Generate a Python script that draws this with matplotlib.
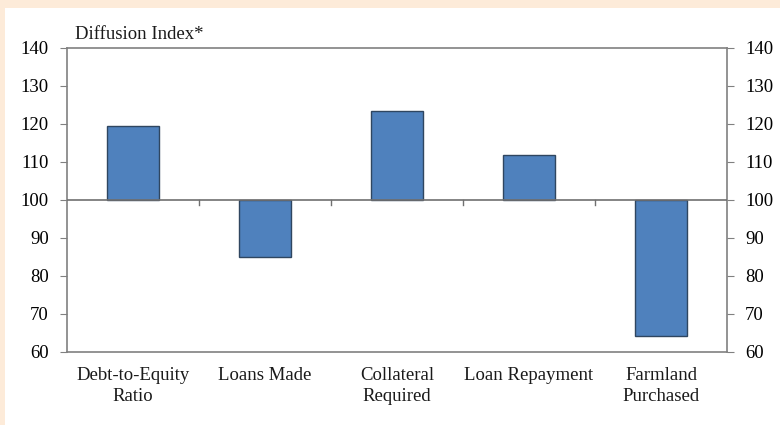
import matplotlib
matplotlib.use('Agg')
import matplotlib.pyplot as plt
from matplotlib.patches import Rectangle

# Diffusion index by category (100 = no change)
categories = ['Debt-to-Equity\nRatio', 'Loans Made', 'Collateral\nRequired',
              'Loan Repayment', 'Farmland\nPurchased']
values = [119.5, 85.0, 123.5, 111.8, 64.3]
baseline = 100
y_ticks = [60, 70, 80, 90, 100, 110, 120, 130, 140]

plt.rcParams['font.family'] = ['Liberation Serif', 'DejaVu Serif']

fig = plt.figure(figsize=(7.8, 4.25), dpi=100)
fig.patch.set_facecolor('#fdebd9')
# white panel inside the peach frame (drawn beneath the axes)
fig.add_artist(Rectangle((5 / 780, 0), 775 / 780, 417 / 425,
                         transform=fig.transFigure, facecolor='white',
                         edgecolor='none', zorder=-10))

ax = fig.add_axes([67 / 780, 1 - 352 / 425, 660 / 780, 304 / 425])
ax.set_facecolor('white')

x = range(len(categories))
heights = [v - baseline for v in values]
ax.bar(x, heights, bottom=baseline, width=0.4, color='#4f81bd',
       edgecolor='#2f4660', linewidth=1.0, zorder=3)

ax.set_xlim(-0.5, len(categories) - 0.5)
ax.set_ylim(60, 140)
ax.set_yticks(y_ticks)
ax.tick_params(axis='y', which='both', direction='out', length=5,
               color='#808080', labelsize=13.5, pad=8,
               left=True, right=True, labelleft=True, labelright=True)
ax.set_xticks([])

for s in ax.spines.values():
    s.set_color('#808080')
    s.set_linewidth(1.2)

# baseline at 100 with small ticks between categories
ax.axhline(baseline, color='#707070', linewidth=1.2, zorder=4)
for b in [i + 0.5 for i in range(len(categories) - 1)]:
    ax.plot([b, b], [baseline, baseline - 1.3], color='#707070',
            linewidth=1.0, zorder=4)

for i, lab in enumerate(categories):
    ax.text(i, 56.0, lab, ha='center', va='top', fontsize=13.5,
            linespacing=1.3, color='#1a1a1a')

ax.text(0.012, 1.015, 'Diffusion Index*', transform=ax.transAxes,
        ha='left', va='bottom', fontsize=13.5, color='#1a1a1a')

fig.savefig('out.png', dpi=100, facecolor=fig.get_facecolor())
